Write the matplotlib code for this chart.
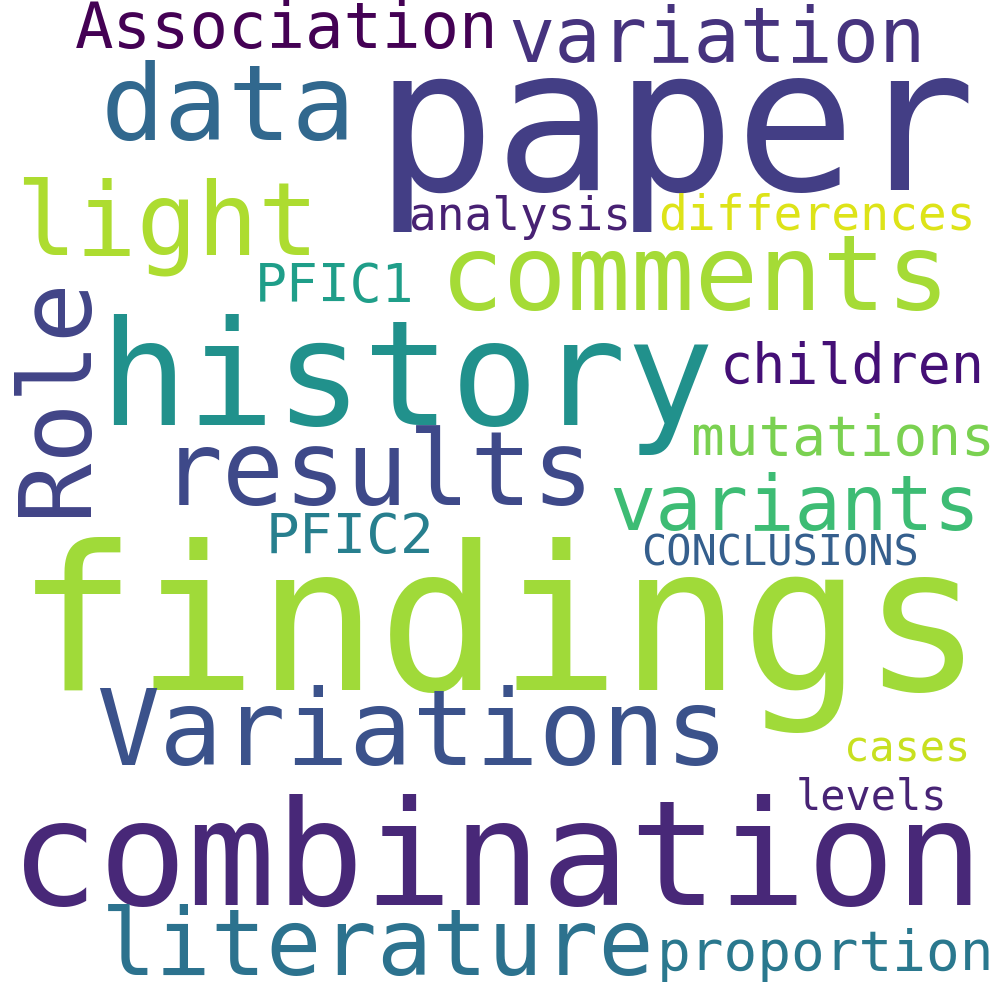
import matplotlib
matplotlib.use("Agg")
import matplotlib.pyplot as plt

# words and their weights (font size in px)
words = ["paper", "findings", "combination", "history", "Variations", "literature",
         "results", "comments", "data", "light", "variation", "Association", "Role",
         "variants", "mutations", "children", "PFIC1", "PFIC2", "analysis",
         "differences", "CONCLUSIONS", "cases", "levels", "proportion"]
sizes = [200, 201, 147, 146, 105, 92, 103, 106, 106, 101, 77, 64, 100,
         77, 56, 55, 53, 56, 46, 48, 42, 42, 42, 56]
colors = ["#433e85", "#a0da39", "#482878", "#21918c", "#3b528b", "#2c728e",
          "#3e4989", "#a5db36", "#31688e", "#addc30", "#46337e", "#440154", "#414487",
          "#3dbc74", "#7ad151", "#440f76", "#1f9e89", "#277f8e", "#482173",
          "#dde318", "#355f8d", "#c8e020", "#482475", "#2a788e"]

# layout: (x center, y baseline, rotation) in pixels from top-left
layout = [(675, 190, 0), (500, 690, 0), (497, 905, 0), (407, 425, 0), (412, 765, 0),
          (378, 975, 0), (378, 505, 0), (695, 310, 0), (228, 140, 0), (167, 255, 0),
          (717, 62, 0), (287, 48, 0), (85, 395, 90), (795, 530, 0), (843, 455, 0),
          (852, 383, 0), (335, 302, 0), (350, 553, 0), (520, 230, 0), (817, 230, 0),
          (780, 565, 0), (907, 762, 0), (871, 810, 0), (825, 970, 0)]

fig = plt.figure(figsize=(1000 / 72, 1000 / 72), dpi=72)
ax = fig.add_axes([0, 0, 1, 1])
ax.set_xlim(0, 1000)
ax.set_ylim(1000, 0)
ax.axis("off")

for w, s, c, (x, y, r) in zip(words, sizes, colors, layout):
    ax.text(x, y, w, fontsize=s, color=c, family="DejaVu Sans Mono",
            rotation=r, ha="center", va="baseline", rotation_mode="anchor")

fig.savefig("out.png", dpi=72, facecolor="white")
